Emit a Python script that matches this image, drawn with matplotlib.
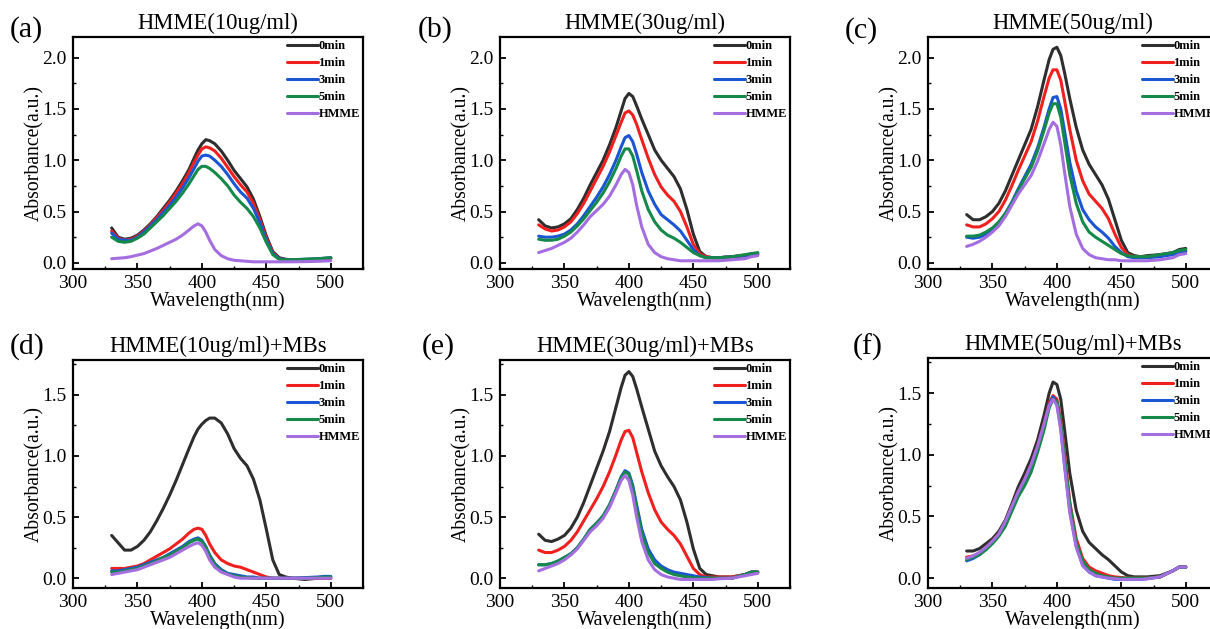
import matplotlib
matplotlib.use("Agg")
import matplotlib.pyplot as plt
from matplotlib.ticker import MultipleLocator

plt.rcParams['font.family'] = ['Liberation Serif', 'DejaVu Serif']
plt.rcParams['mathtext.fontset'] = 'stix'

# ---------------- data ----------------
wavelength = [330, 335, 340, 345, 350, 355, 360, 365, 370, 375, 380, 385, 390, 394, 397,
              400, 403, 406, 410, 415, 420, 425, 430, 435, 440, 445, 450, 455, 460, 465,
              470, 480, 490, 495, 500]

series_labels = ["0min", "1min", "3min", "5min", "HMME"]
titles = ["HMME(10ug/ml)", "HMME(30ug/ml)", "HMME(50ug/ml)",
          "HMME(10ug/ml)+MBs", "HMME(30ug/ml)+MBs", "HMME(50ug/ml)+MBs"]
panel_tags = ["(a)", "(b)", "(c)", "(d)", "(e)", "(f)"]

# (a) HMME 10 ug/ml
a_0 = [0.34, 0.25, 0.23, 0.24, 0.27, 0.32, 0.38, 0.45, 0.53, 0.61, 0.70, 0.80, 0.91, 1.02, 1.10,
       1.16, 1.20, 1.19, 1.16, 1.09, 1.00, 0.90, 0.82, 0.74, 0.62, 0.45, 0.26, 0.11, 0.05, 0.035,
       0.03, 0.03, 0.035, 0.04, 0.045]
a_1 = [0.31, 0.24, 0.22, 0.23, 0.26, 0.31, 0.37, 0.44, 0.51, 0.59, 0.68, 0.77, 0.88, 0.98, 1.05,
       1.11, 1.13, 1.12, 1.09, 1.02, 0.93, 0.84, 0.76, 0.69, 0.58, 0.42, 0.24, 0.10, 0.04, 0.03,
       0.03, 0.03, 0.035, 0.04, 0.045]
a_3 = [0.29, 0.23, 0.22, 0.22, 0.25, 0.30, 0.36, 0.42, 0.49, 0.56, 0.64, 0.73, 0.83, 0.92, 0.99,
       1.04, 1.05, 1.04, 1.00, 0.94, 0.86, 0.77, 0.69, 0.63, 0.53, 0.39, 0.22, 0.09, 0.04, 0.03,
       0.03, 0.035, 0.04, 0.045, 0.05]
a_5 = [0.25, 0.21, 0.20, 0.21, 0.24, 0.28, 0.34, 0.40, 0.46, 0.53, 0.60, 0.68, 0.77, 0.85, 0.91,
       0.94, 0.94, 0.92, 0.88, 0.82, 0.75, 0.66, 0.59, 0.53, 0.45, 0.34, 0.20, 0.08, 0.035, 0.03,
       0.03, 0.035, 0.04, 0.045, 0.05]
a_h = [0.04, 0.045, 0.05, 0.06, 0.075, 0.09, 0.115, 0.14, 0.17, 0.20, 0.23, 0.27, 0.32, 0.36, 0.38,
       0.36, 0.30, 0.22, 0.13, 0.07, 0.04, 0.025, 0.02, 0.015, 0.01, 0.01, 0.01, 0.01, 0.01, 0.01,
       0.01, 0.012, 0.015, 0.018, 0.02]

# (b) HMME 30 ug/ml
b_0 = [0.42, 0.36, 0.34, 0.35, 0.38, 0.43, 0.52, 0.63, 0.76, 0.88, 1.00, 1.15, 1.32, 1.48, 1.60,
       1.65, 1.62, 1.53, 1.40, 1.25, 1.10, 1.00, 0.92, 0.84, 0.72, 0.52, 0.28, 0.11, 0.06, 0.05,
       0.05, 0.06, 0.07, 0.09, 0.09]
b_1 = [0.37, 0.33, 0.31, 0.32, 0.35, 0.40, 0.48, 0.58, 0.70, 0.82, 0.94, 1.08, 1.24, 1.37, 1.46,
       1.48, 1.44, 1.35, 1.20, 1.02, 0.86, 0.74, 0.66, 0.60, 0.50, 0.35, 0.18, 0.09, 0.06, 0.05,
       0.05, 0.06, 0.07, 0.08, 0.09]
b_3 = [0.26, 0.25, 0.25, 0.26, 0.28, 0.32, 0.38, 0.46, 0.55, 0.64, 0.74, 0.86, 1.00, 1.13, 1.22,
       1.24, 1.18, 1.06, 0.88, 0.70, 0.57, 0.47, 0.42, 0.37, 0.31, 0.22, 0.13, 0.07, 0.05, 0.05,
       0.05, 0.06, 0.07, 0.08, 0.08]
b_5 = [0.23, 0.22, 0.22, 0.23, 0.26, 0.30, 0.36, 0.43, 0.51, 0.59, 0.68, 0.79, 0.92, 1.04, 1.11,
       1.11, 1.04, 0.90, 0.70, 0.52, 0.40, 0.32, 0.27, 0.24, 0.20, 0.15, 0.10, 0.07, 0.05, 0.05,
       0.05, 0.06, 0.08, 0.09, 0.10]
b_h = [0.10, 0.12, 0.14, 0.17, 0.20, 0.24, 0.30, 0.37, 0.45, 0.51, 0.57, 0.65, 0.76, 0.86, 0.91,
       0.88, 0.76, 0.56, 0.35, 0.18, 0.10, 0.06, 0.04, 0.03, 0.02, 0.02, 0.02, 0.02, 0.02, 0.02,
       0.02, 0.03, 0.04, 0.06, 0.07]

# (c) HMME 50 ug/ml
c_0 = [0.47, 0.42, 0.42, 0.45, 0.50, 0.58, 0.70, 0.85, 1.00, 1.15, 1.30, 1.52, 1.78, 1.98, 2.08,
       2.10, 2.02, 1.85, 1.60, 1.32, 1.10, 0.96, 0.86, 0.76, 0.62, 0.42, 0.22, 0.10, 0.07, 0.06,
       0.07, 0.08, 0.10, 0.13, 0.14]
c_1 = [0.37, 0.35, 0.35, 0.38, 0.43, 0.50, 0.61, 0.75, 0.90, 1.04, 1.18, 1.38, 1.62, 1.80, 1.88,
       1.88, 1.78, 1.58, 1.30, 1.00, 0.80, 0.67, 0.60, 0.53, 0.43, 0.28, 0.15, 0.08, 0.06, 0.06,
       0.06, 0.07, 0.09, 0.11, 0.12]
c_3 = [0.25, 0.24, 0.25, 0.28, 0.33, 0.39, 0.48, 0.59, 0.72, 0.84, 0.96, 1.12, 1.32, 1.50, 1.61,
       1.62, 1.50, 1.28, 0.98, 0.70, 0.52, 0.42, 0.35, 0.30, 0.24, 0.16, 0.10, 0.06, 0.05, 0.05,
       0.05, 0.06, 0.08, 0.10, 0.11]
c_5 = [0.26, 0.26, 0.27, 0.30, 0.34, 0.40, 0.48, 0.58, 0.70, 0.82, 0.93, 1.09, 1.29, 1.46, 1.55,
       1.55, 1.42, 1.18, 0.86, 0.58, 0.40, 0.30, 0.25, 0.21, 0.17, 0.13, 0.09, 0.07, 0.06, 0.06,
       0.06, 0.08, 0.10, 0.12, 0.13]
c_h = [0.16, 0.18, 0.21, 0.25, 0.30, 0.36, 0.45, 0.56, 0.67, 0.76, 0.85, 0.99, 1.16, 1.30, 1.37,
       1.33, 1.15, 0.88, 0.55, 0.28, 0.14, 0.08, 0.05, 0.04, 0.03, 0.03, 0.02, 0.02, 0.02, 0.02,
       0.02, 0.03, 0.05, 0.08, 0.09]

# (d) HMME 10 ug/ml + MBs
d_0 = [0.35, 0.29, 0.23, 0.23, 0.26, 0.31, 0.38, 0.47, 0.57, 0.68, 0.80, 0.93, 1.06, 1.16, 1.22,
       1.26, 1.29, 1.31, 1.31, 1.27, 1.18, 1.06, 0.98, 0.92, 0.81, 0.64, 0.40, 0.15, 0.03, 0.01,
       0.0, -0.01, 0.0, 0.0, 0.0]
d_1 = [0.08, 0.08, 0.08, 0.09, 0.10, 0.12, 0.15, 0.18, 0.21, 0.24, 0.28, 0.32, 0.37, 0.40, 0.41,
       0.40, 0.35, 0.28, 0.21, 0.15, 0.12, 0.10, 0.09, 0.07, 0.05, 0.03, 0.01, 0.0, 0.0, 0.0,
       0.0, 0.0, 0.0, 0.0, 0.0]
d_3 = [0.06, 0.06, 0.07, 0.08, 0.09, 0.11, 0.13, 0.15, 0.17, 0.20, 0.23, 0.26, 0.30, 0.32, 0.33,
       0.31, 0.26, 0.19, 0.12, 0.07, 0.04, 0.03, 0.02, 0.01, 0.01, 0.0, 0.0, 0.0, 0.0, 0.0,
       0.0, 0.005, 0.01, 0.015, 0.015]
d_5 = [0.05, 0.05, 0.06, 0.07, 0.08, 0.10, 0.12, 0.14, 0.17, 0.19, 0.22, 0.25, 0.29, 0.31, 0.32,
       0.30, 0.25, 0.18, 0.11, 0.06, 0.035, 0.02, 0.01, 0.005, 0.0, 0.0, 0.0, 0.0, 0.0, 0.0,
       0.0, 0.0, 0.005, 0.01, 0.01]
d_h = [0.03, 0.04, 0.05, 0.06, 0.07, 0.09, 0.11, 0.13, 0.15, 0.17, 0.20, 0.23, 0.26, 0.28, 0.29,
       0.27, 0.22, 0.15, 0.09, 0.05, 0.03, 0.01, 0.0, 0.0, 0.0, 0.0, 0.0, 0.0, 0.0, 0.0,
       0.0, 0.0, 0.0, 0.0, 0.0]

# (e) HMME 30 ug/ml + MBs
e_0 = [0.36, 0.31, 0.30, 0.32, 0.35, 0.41, 0.50, 0.62, 0.76, 0.90, 1.04, 1.20, 1.40, 1.56, 1.66,
       1.69, 1.65, 1.55, 1.40, 1.22, 1.04, 0.92, 0.83, 0.75, 0.64, 0.46, 0.24, 0.08, 0.03, 0.02,
       0.01, 0.01, 0.03, 0.05, 0.05]
e_1 = [0.23, 0.21, 0.21, 0.23, 0.26, 0.31, 0.38, 0.47, 0.56, 0.65, 0.75, 0.87, 1.01, 1.13, 1.20,
       1.21, 1.15, 1.03, 0.87, 0.70, 0.56, 0.46, 0.40, 0.35, 0.28, 0.18, 0.08, 0.03, 0.01, 0.01,
       0.01, 0.01, 0.03, 0.05, 0.05]
e_3 = [0.11, 0.11, 0.12, 0.14, 0.17, 0.20, 0.25, 0.32, 0.40, 0.45, 0.51, 0.60, 0.72, 0.83, 0.88,
       0.86, 0.76, 0.60, 0.40, 0.24, 0.15, 0.10, 0.07, 0.05, 0.04, 0.03, 0.02, 0.01, 0.005, 0.0,
       0.0, 0.0, 0.03, 0.05, 0.05]
e_5 = [0.11, 0.11, 0.12, 0.14, 0.17, 0.20, 0.25, 0.32, 0.40, 0.45, 0.51, 0.60, 0.72, 0.82, 0.87,
       0.85, 0.74, 0.57, 0.37, 0.21, 0.12, 0.08, 0.05, 0.03, 0.02, 0.01, 0.005, 0.0, 0.0, 0.0,
       0.0, 0.0, 0.03, 0.05, 0.05]
e_h = [0.06, 0.08, 0.10, 0.12, 0.15, 0.19, 0.24, 0.31, 0.38, 0.43, 0.49, 0.58, 0.70, 0.80, 0.84,
       0.80, 0.68, 0.50, 0.30, 0.15, 0.07, 0.03, 0.01, 0.0, -0.01, -0.01, -0.01, -0.01, -0.01, -0.01,
       -0.005, 0.0, 0.02, 0.03, 0.04]

# (f) HMME 50 ug/ml + MBs
f_0 = [0.22, 0.22, 0.24, 0.28, 0.32, 0.38, 0.47, 0.60, 0.74, 0.85, 0.97, 1.12, 1.32, 1.50, 1.59,
       1.57, 1.45, 1.20, 0.85, 0.55, 0.38, 0.29, 0.24, 0.19, 0.15, 0.10, 0.05, 0.02, 0.01, 0.01,
       0.01, 0.02, 0.06, 0.09, 0.09]
f_1 = [0.17, 0.18, 0.20, 0.25, 0.30, 0.36, 0.45, 0.58, 0.70, 0.80, 0.92, 1.07, 1.25, 1.42, 1.48,
       1.45, 1.28, 1.00, 0.62, 0.32, 0.16, 0.09, 0.06, 0.04, 0.02, 0.01, 0.005, 0.0, 0.0, 0.0,
       0.0, 0.01, 0.06, 0.09, 0.09]
f_3 = [0.14, 0.16, 0.19, 0.24, 0.29, 0.35, 0.44, 0.57, 0.69, 0.78, 0.90, 1.05, 1.23, 1.40, 1.47,
       1.42, 1.22, 0.92, 0.55, 0.26, 0.11, 0.05, 0.02, 0.01, 0.0, -0.01, -0.01, -0.01, -0.01, -0.01,
       -0.005, 0.01, 0.06, 0.09, 0.09]
f_5 = [0.15, 0.17, 0.19, 0.23, 0.28, 0.34, 0.42, 0.54, 0.66, 0.75, 0.86, 1.02, 1.20, 1.38, 1.45,
       1.43, 1.26, 0.97, 0.60, 0.29, 0.14, 0.07, 0.04, 0.02, 0.01, 0.0, 0.0, 0.0, 0.0, 0.0,
       0.0, 0.01, 0.06, 0.09, 0.09]
f_h = [0.16, 0.18, 0.21, 0.25, 0.30, 0.36, 0.46, 0.58, 0.70, 0.80, 0.92, 1.07, 1.25, 1.40, 1.45,
       1.40, 1.20, 0.90, 0.53, 0.25, 0.10, 0.05, 0.02, 0.01, 0.0, -0.005, -0.01, -0.01, -0.01, -0.01,
       -0.005, 0.01, 0.06, 0.09, 0.09]

panels = [
    [a_0, a_1, a_3, a_5, a_h],
    [b_0, b_1, b_3, b_5, b_h],
    [c_0, c_1, c_3, c_5, c_h],
    [d_0, d_1, d_3, d_5, d_h],
    [e_0, e_1, e_3, e_5, e_h],
    [f_0, f_1, f_3, f_5, f_h],
]

colors = ["#2e2e2e", "#f0201e", "#1a55d4", "#15894a", "#a56ee0"]

# ---------------- figure ----------------
W, H = 1210, 629
fig = plt.figure(figsize=(W / 100, H / 100), dpi=100)

lefts = [73, 500, 928]
top_row = (37, 269)
bot_row = (360, 588)
axw = 290
tag_x = [10, 418, 845, 10, 422, 853]
tag_y = [30, 30, 31, 347, 347, 347]

for i in range(6):
    r, c = divmod(i, 3)
    t, b = top_row if r == 0 else bot_row
    if i == 5:
        t = 358
    ax = fig.add_axes([lefts[c] / W, (H - b) / H, axw / W, (b - t) / H])
    for s, lab, col in zip(panels[i], series_labels, colors):
        ax.plot(wavelength, s, color=col, lw=2.2, label=lab, solid_capstyle='round')
    ax.set_xlim(300, 525)
    if r == 0:
        ax.set_ylim(-0.06, 2.2)
    else:
        ax.set_ylim(-0.08, 1.785)
    ax.xaxis.set_major_locator(MultipleLocator(50))
    ax.xaxis.set_minor_locator(MultipleLocator(25))
    ax.yaxis.set_major_locator(MultipleLocator(0.5))
    ax.yaxis.set_minor_locator(MultipleLocator(0.25))
    ax.tick_params(which='major', direction='in', length=4.5, width=1.3,
                   labelsize=14, pad=4.5)
    ax.tick_params(which='minor', direction='in', length=2.5, width=1.0)
    for sp in ax.spines.values():
        sp.set_linewidth(1.6)
    ax.set_xlabel("Wavelength(nm)", fontsize=14.6, labelpad=-0.5)
    ax.set_ylabel("Absorbance(a.u.)", fontsize=14.2, labelpad=-1.5)
    ax.set_title(titles[i], fontsize=16.3, pad=5.5)
    ax.legend(loc='upper right', frameon=False, prop={'size': 9, 'weight': 'bold'},
              handlelength=2.5, handletextpad=0.05, labelspacing=0.4,
              borderpad=0.2, borderaxespad=0.05)
    fig.text(tag_x[i] / W, 1 - tag_y[i] / H, panel_tags[i], fontsize=21.5,
             ha='left', va='center')

fig.savefig("out.png", dpi=100)
